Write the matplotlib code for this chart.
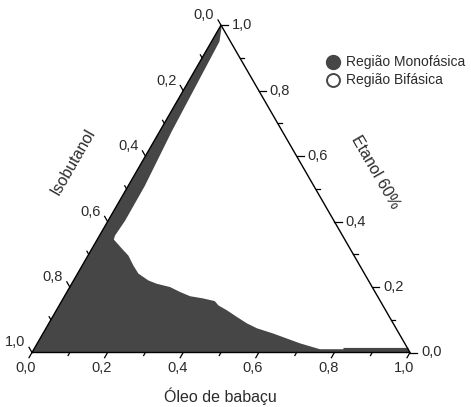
import numpy as np
import matplotlib
matplotlib.use("Agg")
import matplotlib.pyplot as plt

plt.rcParams['font.family'] = ['Liberation Sans', 'DejaVu Sans']

# Boundary of the monophasic region: (oleo, etanol) pairs, isobutanol = 1 - oleo - etanol
oleo = [0.000, 0.006, 0.021, 0.032, 0.044, 0.045, 0.041, 0.044, 0.086, 0.107, 0.135,
        0.161, 0.198, 0.225, 0.265, 0.299, 0.332, 0.371, 0.405, 0.421, 0.451,
        0.487, 0.524, 0.558, 0.609, 0.652, 0.695, 0.736, 0.757, 0.819, 0.817,
        0.988, 1.000, 0.000]
etanol = [1.000, 0.990, 0.950, 0.676, 0.509, 0.403, 0.357, 0.345, 0.312, 0.296, 0.266,
          0.241, 0.220, 0.210, 0.200, 0.185, 0.172, 0.165, 0.157, 0.144, 0.129,
          0.109, 0.089, 0.074, 0.058, 0.043, 0.028, 0.016, 0.010, 0.010, 0.014,
          0.014, 0.000, 0.000]

tick_values = [0.0, 0.2, 0.4, 0.6, 0.8, 1.0]
tick_labels = ['0,0', '0,2', '0,4', '0,6', '0,8', '1,0']
minor_values = [0.1, 0.3, 0.5, 0.7, 0.9]
legend_labels = ['Região Monofásica', 'Região Bifásica']
axis_titles = ['Óleo de babaçu', 'Isobutanol', 'Etanol 60%']

FILL = '#464646'
TXT = '#2b2b2b'
S = np.sqrt(3) / 2


def cart(o, e):
    o = np.asarray(o, float)
    e = np.asarray(e, float)
    return o + e / 2, e * S


fig = plt.figure(figsize=(4.71, 4.07), dpi=100)
ax = fig.add_axes([0, 0, 1, 1])
ax.set_xlim(-32 / 378, (471 - 32) / 378)
ax.set_ylim((352.5 - 407) / 378, 352.5 / 378)
ax.axis('off')

# region
x, y = cart(oleo, etanol)
ax.fill(x, y, color=FILL, lw=0, zorder=1)

# triangle edges
tx, ty = cart([0, 1, 0, 0], [0, 0, 1, 0])
ax.plot(tx, ty, color='black', lw=1.0, zorder=3, solid_joinstyle='miter')

px = 1 / 378.0
maj = 6 * px
mnr = 3.5 * px

# bottom axis (oleo): ticks parallel to left edge, outward down-left
for v in tick_values + minor_values:
    L = maj if v in tick_values else mnr
    bx, by = cart(v, 0)
    ax.plot([bx, bx - 0.5 * L], [by, by - S * L], color='black', lw=0.9, zorder=3)
for v, lab in zip(tick_values, tick_labels):
    bx, by = cart(v, 0)
    ax.text(bx - 6 * px, by - 16 * px, lab, ha='center', va='center',
            fontsize=10.5, color=TXT)

# right axis (etanol): horizontal ticks outward right
for v in tick_values + minor_values:
    L = maj if v in tick_values else mnr
    bx, by = cart(1 - v, v)
    ax.plot([bx, bx + L * 1.2], [by, by], color='black', lw=0.9, zorder=3)
for v, lab in zip(tick_values, tick_labels):
    bx, by = cart(1 - v, v)
    ax.text(bx + 11 * px, by, lab, ha='left', va='center',
            fontsize=10.5, color=TXT)

# left axis (isobutanol, 1 at bottom-left): ticks parallel to right edge, outward up-left
for v in tick_values + minor_values:
    L = maj if v in tick_values else mnr
    bx, by = cart(0, 1 - v)
    ax.plot([bx, bx - 0.5 * L], [by, by + S * L], color='black', lw=0.9, zorder=3)
for v, lab in zip(tick_values, tick_labels):
    bx, by = cart(0, 1 - v)
    ax.text(bx - 17 * px, by + 10 * px, lab, ha='center', va='center',
            fontsize=10.5, color=TXT)

# axis titles
ax.text((220 - 32) * px, (352.5 - 396) * px, axis_titles[0], ha='center', va='center',
        fontsize=11.5, color=TXT)
ax.text((73 - 32) * px, (352.5 - 162) * px, axis_titles[1], ha='center', va='center',
        fontsize=11.5, color=TXT, rotation=60)
ax.text((375 - 32) * px, (352.5 - 172) * px, axis_titles[2], ha='center', va='center',
        fontsize=11.5, color=TXT, rotation=-60)

# legend
lx = (333.3 - 32) * px
ly = [(352.5 - 62) * px, (352.5 - 80.3) * px]
ax.plot([lx], [ly[0]], marker='o', ms=10, mfc=FILL, mec=FILL, ls='none', zorder=4)
ax.plot([lx], [ly[1]], marker='o', ms=9.3, mfc='white', mec=FILL, mew=1.4, ls='none', zorder=4)
for yy, lab in zip(ly, legend_labels):
    ax.text((346 - 32) * px, yy, lab, ha='left', va='center', fontsize=10, color=TXT)

fig.savefig('out.png', dpi=100)
